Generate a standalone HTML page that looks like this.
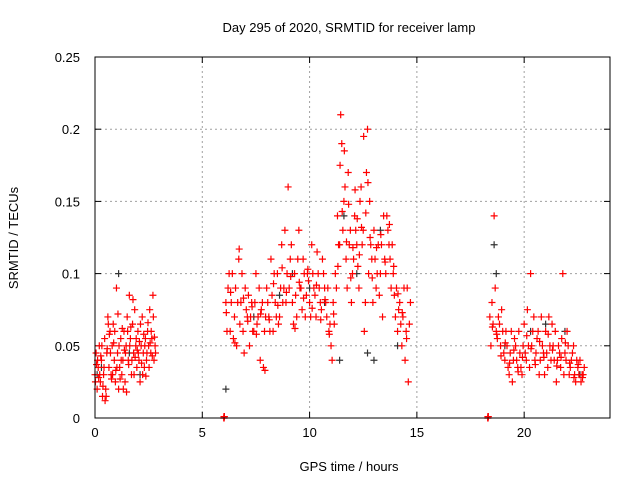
<!DOCTYPE html>
<html><head><meta charset="utf-8"><style>
body{margin:0;background:#fff;}
svg text{font-family:"Liberation Sans",sans-serif;font-size:13px;fill:#000;}
</style></head><body>
<svg id="chart" width="640" height="480" viewBox="0 0 640 480" xmlns="http://www.w3.org/2000/svg">
<rect width="640" height="480" fill="#fff"/>
<text x="349" y="32" text-anchor="middle">Day 295 of 2020, SRMTID for receiver lamp</text>
<text transform="translate(18,238) rotate(-90)" text-anchor="middle">SRMTID / TECUs</text>
<text x="349" y="471" text-anchor="middle">GPS time / hours</text>
<g id="grid"></g><g id="ticks"></g><g id="marks"></g>
<rect x="95" y="57" width="515" height="361" fill="none" stroke="#000" stroke-width="1"/>
</svg>
<script>
const xTicks=[0,5,10,15,20];
const yTicks=[0,0.05,0.1,0.15,0.2,0.25];
const yTickLabels=["0","0.05","0.1","0.15","0.2","0.25"];
const redHours=[0,0.05,0.1,0.15,0.2,0.25,0.3,0.35,0.4,0.45,0.5,0.55,0.6,0.65,0.7,0.75,0.8,0.85,0.9,0.95,1.0,1.05,1.1,1.15,1.2,1.25,1.3,1.35,1.4,1.45,1.5,1.55,1.6,1.65,1.7,1.75,1.8,1.85,1.9,1.95,2.0,2.05,2.1,2.15,2.2,2.25,2.3,2.35,2.4,2.45,2.5,2.55,2.6,2.65,2.7,2.75,2.8,
0.02,0.12,0.22,0.32,0.42,0.52,0.62,0.72,0.82,0.92,1.02,1.12,1.22,1.32,1.42,1.52,1.62,1.72,1.82,1.92,2.02,2.12,2.22,2.32,2.42,2.52,2.62,2.72,2.82,
0.07,0.17,0.27,0.37,0.47,0.57,0.67,0.77,0.87,0.97,1.07,1.17,1.27,1.37,1.47,1.57,1.67,1.77,1.87,1.97,2.07,2.17,2.27,2.37,2.47,2.57,2.67,2.77,
6.1,6.2,6.3,6.4,6.5,6.6,6.7,6.8,6.9,7.0,7.1,7.2,7.3,7.4,7.5,7.6,7.7,7.8,7.9,8.0,8.1,8.2,8.3,8.4,8.5,8.6,8.7,8.8,8.9,9.0,9.1,9.2,9.3,9.4,9.5,9.6,9.7,9.8,9.9,10.0,10.1,10.2,10.3,10.4,10.5,10.6,10.7,10.8,10.9,11.0,11.1,11.2,11.3,11.4,11.5,11.6,11.7,11.8,11.9,12.0,12.1,12.2,12.3,12.4,12.5,12.6,12.7,12.8,12.9,13.0,13.1,13.2,13.3,13.4,13.5,13.6,13.7,13.8,13.9,14.0,14.1,14.2,14.3,14.4,14.5,14.6,14.7,
6.15,6.25,6.35,6.45,6.55,6.65,6.75,6.85,6.95,7.05,7.15,7.25,7.35,7.45,7.55,7.65,7.75,7.85,7.95,8.05,8.15,8.25,8.35,8.45,8.55,8.65,8.75,8.85,8.95,9.05,9.15,9.25,9.35,9.45,9.55,9.65,9.75,9.85,9.95,10.05,10.15,10.25,10.35,10.45,10.55,10.65,10.75,10.85,10.95,11.05,11.15,11.25,11.35,11.45,11.55,11.65,11.75,11.85,11.95,12.05,12.15,12.25,12.35,12.45,12.55,12.65,12.75,12.85,12.95,13.05,13.15,13.25,13.35,13.45,13.55,13.65,13.75,13.85,13.95,14.05,14.15,14.25,14.35,14.45,14.55,14.65,
6.12,6.32,6.52,6.72,6.92,7.12,7.32,7.52,7.72,7.92,8.12,8.32,8.52,8.72,8.92,9.12,9.32,9.52,9.72,9.92,10.12,10.32,10.52,10.72,10.92,11.12,11.32,11.42,11.52,11.62,11.72,11.82,11.92,12.02,12.12,12.22,12.32,12.42,12.52,12.62,12.72,12.82,12.92,13.12,13.32,13.52,13.72,13.92,14.12,14.32,14.52,
18.4,18.5,18.6,18.7,18.8,18.9,19.0,19.1,19.2,19.3,19.4,19.5,19.6,19.7,19.8,19.9,20.0,20.1,20.2,20.3,20.4,20.5,20.6,20.7,20.8,20.9,21.0,21.1,21.2,21.3,21.4,21.5,21.6,21.7,21.8,21.9,22.0,22.1,22.2,22.3,22.4,22.5,22.6,22.7,22.8,
18.45,18.55,18.65,18.75,18.85,18.95,19.05,19.15,19.25,19.35,19.45,19.55,19.65,19.75,19.85,19.95,20.05,20.15,20.25,20.35,20.45,20.55,20.65,20.75,20.85,20.95,21.05,21.15,21.25,21.35,21.45,21.55,21.65,21.75,21.85,21.95,22.05,22.15,22.25,22.35,22.45,22.55,22.65,22.75,
18.52,18.72,18.92,19.12,19.32,19.52,19.72,19.92,20.12,20.32,20.52,20.72,20.92,21.12,21.32,21.52,21.72,21.92,22.12,22.32,22.52,22.72,
6.0,6.01,6.02,6.03,18.3,18.31,18.32,18.33];
const redTec=[0.03,0.045,0.02,0.035,0.05,0.025,0.04,0.015,0.03,0.055,0.02,0.045,0.07,0.035,0.06,0.03,0.05,0.065,0.04,0.025,0.09,0.045,0.02,0.035,0.055,0.03,0.04,0.06,0.025,0.05,0.07,0.04,0.085,0.055,0.03,0.065,0.045,0.075,0.05,0.035,0.06,0.04,0.025,0.05,0.07,0.045,0.035,0.055,0.04,0.06,0.05,0.075,0.045,0.055,0.085,0.04,0.05,
0.025,0.04,0.03,0.05,0.035,0.015,0.065,0.045,0.03,0.06,0.035,0.05,0.04,0.02,0.045,0.06,0.05,0.04,0.03,0.055,0.045,0.065,0.03,0.05,0.045,0.035,0.06,0.07,0.045,
0.037,0.028,0.043,0.022,0.012,0.048,0.058,0.027,0.052,0.033,0.072,0.027,0.062,0.047,0.018,0.037,0.063,0.082,0.042,0.047,0.053,0.038,0.058,0.029,0.066,0.052,0.043,0.056,
0.08,0.09,0.06,0.1,0.07,0.05,0.11,0.08,0.06,0.09,0.07,0.05,0.08,0.06,0.1,0.07,0.04,0.08,0.06,0.09,0.07,0.11,0.06,0.08,0.1,0.07,0.12,0.09,0.08,0.16,0.11,0.08,0.1,0.07,0.13,0.09,0.11,0.07,0.1,0.08,0.12,0.09,0.07,0.1,0.08,0.11,0.09,0.07,0.06,0.05,0.08,0.1,0.14,0.12,0.19,0.15,0.11,0.17,0.13,0.1,0.14,0.12,0.09,0.16,0.13,0.08,0.2,0.15,0.11,0.13,0.09,0.12,0.1,0.07,0.11,0.14,0.12,0.09,0.1,0.07,0.06,0.08,0.05,0.09,0.06,0.025,0.08,
0.06,0.1,0.08,0.055,0.09,0.08,0.065,0.1,0.045,0.075,0.085,0.07,0.06,0.08,0.065,0.09,0.075,0.035,0.07,0.08,0.06,0.085,0.1,0.07,0.065,0.09,0.08,0.13,0.1,0.09,0.12,0.065,0.085,0.11,0.09,0.075,0.1,0.085,0.095,0.07,0.1,0.085,0.115,0.09,0.075,0.1,0.08,0.09,0.065,0.04,0.065,0.09,0.12,0.21,0.13,0.16,0.09,0.12,0.08,0.11,0.13,0.105,0.15,0.12,0.06,0.17,0.1,0.12,0.08,0.11,0.1,0.085,0.12,0.14,0.1,0.13,0.11,0.12,0.085,0.09,0.075,0.065,0.07,0.04,0.09,0.065,
0.073,0.087,0.052,0.117,0.083,0.067,0.077,0.058,0.072,0.033,0.068,0.093,0.078,0.104,0.087,0.098,0.062,0.094,0.083,0.103,0.076,0.092,0.068,0.082,0.058,0.072,0.105,0.175,0.143,0.185,0.122,0.148,0.097,0.118,0.158,0.138,0.113,0.132,0.195,0.142,0.163,0.125,0.097,0.118,0.127,0.108,0.134,0.105,0.086,0.073,0.055,
0.07,0.08,0.14,0.06,0.07,0.05,0.06,0.04,0.05,0.03,0.06,0.04,0.05,0.035,0.045,0.03,0.065,0.04,0.05,0.1,0.06,0.04,0.055,0.03,0.07,0.045,0.06,0.035,0.05,0.065,0.04,0.025,0.05,0.035,0.1,0.045,0.06,0.03,0.04,0.05,0.025,0.035,0.04,0.03,0.035,
0.05,0.065,0.09,0.055,0.065,0.075,0.045,0.06,0.035,0.045,0.025,0.055,0.04,0.06,0.035,0.05,0.045,0.075,0.035,0.05,0.07,0.045,0.06,0.04,0.05,0.03,0.045,0.07,0.04,0.05,0.06,0.04,0.045,0.055,0.03,0.04,0.05,0.035,0.045,0.03,0.04,0.03,0.025,0.03,
0.063,0.058,0.043,0.052,0.038,0.047,0.032,0.042,0.057,0.048,0.037,0.053,0.042,0.058,0.047,0.036,0.042,0.052,0.038,0.028,0.037,0.028,
0,0.001,0,0.001,0,0.001,0,0.001];
const darkHours=[0.1,0.3,1.1,1.6,2.1,6.1,7.4,8.6,9.2,10.0,10.7,11.4,11.6,12.2,12.7,13.0,13.3,14.1,18.6,18.7,19.1,20.3,21.0,21.9,22.6];
const darkTec=[0.03,0.035,0.1,0.045,0.03,0.02,0.07,0.085,0.1,0.09,0.08,0.04,0.14,0.1,0.045,0.04,0.13,0.05,0.12,0.1,0.05,0.06,0.065,0.06,0.03];

const X0=95,X1=610,Y0=418,Y1=57,XMAX=24,YMAX=0.25;
const xs=v=>X0+(v/XMAX)*(X1-X0);
const ys=v=>Y0-(v/YMAX)*(Y0-Y1);
const NS="http://www.w3.org/2000/svg";
function mk(tag,attrs,parent){const e=document.createElementNS(NS,tag);for(const k in attrs)e.setAttribute(k,attrs[k]);parent.appendChild(e);return e;}
const grid=document.getElementById('grid'),ticks=document.getElementById('ticks'),marks=document.getElementById('marks');
xTicks.forEach(t=>{const x=xs(t);
 if(t>0){const g=mk('line',{x1:x,x2:x,y1:Y0,y2:Y1,stroke:'#a0a0a0','stroke-dasharray':'2,3'},grid);
 
 }
 mk('line',{x1:x,x2:x,y1:Y0,y2:Y0-6,stroke:'#000'},ticks);mk('line',{x1:x,x2:x,y1:Y1,y2:Y1+6,stroke:'#000'},ticks);
 const l=mk('text',{x:x,y:Y0+19,'text-anchor':'middle'},ticks);l.textContent=String(t);
 
 });
yTicks.forEach((t,i)=>{const y=ys(t);
 if(t>0&&t<YMAX){const g=mk('line',{x1:X0,x2:X1,y1:y,y2:y,stroke:'#a0a0a0','stroke-dasharray':'2,3'},grid);
 
 }
 mk('line',{x1:X0,x2:X0+6,y1:y,y2:y,stroke:'#000'},ticks);mk('line',{x1:X1,x2:X1-6,y1:y,y2:y,stroke:'#000'},ticks);
 const l=mk('text',{x:X0-15,y:y+5,'text-anchor':'end'},ticks);l.textContent=yTickLabels[i];
 
 });
function plus(x,y,color,name){const p=mk('path',{d:`M${x-3.5},${y}H${x+3.5}M${x},${y-3.5}V${y+3.5}`,stroke:color,'stroke-width':1.2,fill:'none'},marks);
 
 }
darkHours.forEach((h,i)=>plus(xs(h),ys(darkTec[i]),'#333','dark-point'));
redHours.forEach((h,i)=>plus(xs(h),ys(redTec[i]),'#ff0000','red-point'));
</script>
</body></html>
